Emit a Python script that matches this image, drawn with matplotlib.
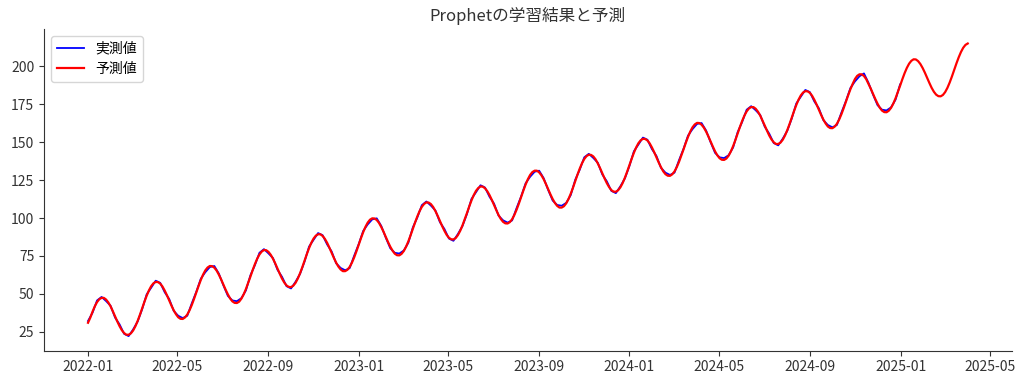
import pandas as pd
import matplotlib
matplotlib.use("Agg")
import matplotlib.pyplot as plt
import matplotlib.dates as mdates

plt.rcParams['font.family'] = ['Noto Sans CJK JP', 'DejaVu Sans']

start_date = "2022-01-01"
# predicted line read every 73 hours (24 points per seasonal cycle)
pred_step = "73h"
# actual values read every 146 hours
actual_step = "146h"

# predicted values (yhat), history + 90 day forecast
pred_vals = [
    31.0, 34.3, 38.3, 41.8, 44.6, 46.5, 47.4, 47.4, 46.3, 44.4, 41.8, 38.6,
    35.2, 31.8, 28.7, 26.1, 24.2, 23.1, 23.1, 24.0, 25.9, 28.7, 32.2, 36.2,
    40.5, 44.8, 48.8, 52.3, 55.1, 57.0, 57.9, 57.8, 56.8, 54.9, 52.2, 49.1,
    45.7, 42.3, 39.2, 36.6, 34.6, 33.6, 33.5, 34.5, 36.4, 39.2, 42.7, 46.7,
    51.0, 55.2, 59.2, 62.7, 65.5, 67.4, 68.4, 68.3, 67.3, 65.4, 62.7, 59.6,
    56.2, 52.8, 49.7, 47.0, 45.1, 44.1, 44.0, 44.9, 46.9, 49.7, 53.2, 57.2,
    61.4, 65.7, 69.7, 73.2, 76.0, 77.9, 78.9, 78.8, 77.7, 75.8, 73.2, 70.1,
    66.7, 63.3, 60.1, 57.5, 55.6, 54.6, 54.5, 55.4, 57.3, 60.1, 63.6, 67.6,
    71.9, 76.2, 80.2, 83.7, 86.5, 88.4, 89.3, 89.3, 88.2, 86.3, 83.7, 80.5,
    77.1, 73.7, 70.6, 68.0, 66.1, 65.0, 65.0, 65.9, 67.8, 70.6, 74.1, 78.1,
    82.4, 86.7, 90.7, 94.2, 97.0, 98.9, 99.8, 99.7, 98.7, 96.8, 94.1, 91.0,
    87.6, 84.2, 81.1, 78.5, 76.5, 75.5, 75.4, 76.4, 78.3, 81.1, 84.6, 88.6,
    92.9, 97.1, 101.1, 104.6, 107.4, 109.3, 110.3, 110.2, 109.2, 107.3, 104.6, 101.5,
    98.1, 94.7, 91.6, 88.9, 87.0, 86.0, 85.9, 86.8, 88.8, 91.6, 95.1, 99.1,
    103.3, 107.6, 111.6, 115.1, 117.9, 119.8, 120.8, 120.7, 119.6, 117.7, 115.1, 112.0,
    108.6, 105.2, 102.0, 99.4, 97.5, 96.5, 96.4, 97.3, 99.2, 102.0, 105.5, 109.5,
    113.8, 118.1, 122.1, 125.6, 128.4, 130.3, 131.2, 131.2, 130.1, 128.2, 125.6, 122.4,
    119.0, 115.6, 112.5, 109.9, 108.0, 106.9, 106.9, 107.8, 109.7, 112.5, 116.0, 120.0,
    124.3, 128.6, 132.6, 136.1, 138.9, 140.8, 141.7, 141.6, 140.6, 138.7, 136.0, 132.9,
    129.5, 126.1, 123.0, 120.4, 118.4, 117.4, 117.3, 118.3, 120.2, 123.0, 126.5, 130.5,
    134.8, 139.0, 143.0, 146.5, 149.3, 151.2, 152.2, 152.1, 151.1, 149.2, 146.5, 143.4,
    140.0, 136.6, 133.5, 130.8, 128.9, 127.9, 127.8, 128.8, 130.7, 133.5, 137.0, 141.0,
    145.2, 149.5, 153.5, 157.0, 159.8, 161.7, 162.7, 162.6, 161.5, 159.6, 157.0, 153.9,
    150.5, 147.1, 143.9, 141.3, 139.4, 138.4, 138.3, 139.2, 141.1, 143.9, 147.4, 151.4,
    155.7, 160.0, 164.0, 167.5, 170.3, 172.2, 173.1, 173.1, 172.0, 170.1, 167.5, 164.3,
    161.0, 157.6, 154.4, 151.8, 149.9, 148.8, 148.8, 149.7, 151.6, 154.4, 157.9, 161.9,
    166.2, 170.5, 174.5, 178.0, 180.8, 182.7, 183.6, 183.5, 182.5, 180.6, 177.9, 174.8,
    171.4, 168.0, 164.9, 162.3, 160.3, 159.3, 159.2, 160.2, 162.1, 164.9, 168.4, 172.4,
    176.7, 180.9, 184.9, 188.4, 191.6, 193.7, 194.7, 194.7, 193.6, 191.5, 188.4, 185.3,
    181.9, 178.5, 175.4, 172.7, 170.8, 169.8, 169.7, 170.7, 172.6, 175.4, 178.9, 182.9,
    187.1, 191.4, 195.4, 198.9, 201.7, 203.6, 204.6, 204.5, 203.4, 201.5, 198.9, 195.8,
    192.4, 189.0, 185.8, 183.2, 181.3, 180.3, 180.2, 181.1, 183.0, 185.8, 189.3, 193.3,
    197.6, 201.9, 205.9, 209.4, 212.2, 214.1, 215.0,
]

# actual observations, 2022-01-01 .. 2024-12-31
actual_vals = [
    32.2, 37.6, 45.7, 48.0, 45.3, 42.2, 34.4, 29.9, 23.7, 22.2, 26.6, 31.8,
    39.9, 49.7, 54.1, 58.7, 57.3, 51.1, 46.6, 38.8, 35.6, 34.1, 35.6, 43.8,
    51.4, 60.0, 64.3, 67.7, 68.4, 63.4, 55.7, 48.7, 45.7, 45.2, 47.2, 52.3,
    62.3, 69.0, 77.1, 79.5, 76.7, 73.6, 65.9, 61.3, 55.1, 53.6, 58.0, 63.2,
    71.3, 81.2, 85.6, 90.1, 88.7, 82.6, 78.0, 70.2, 67.1, 65.6, 67.0, 75.2,
    82.8, 91.5, 95.8, 99.1, 99.8, 94.8, 87.1, 80.1, 77.1, 76.6, 78.6, 83.7,
    93.8, 100.4, 108.5, 110.9, 108.2, 105.0, 97.3, 92.8, 86.5, 85.0, 89.5, 94.7,
    102.7, 112.6, 117.0, 121.6, 120.1, 114.0, 109.5, 101.6, 98.5, 97.0, 98.4, 106.6,
    114.2, 122.9, 127.2, 130.5, 131.2, 126.3, 118.5, 111.5, 108.6, 108.1, 110.0, 115.1,
    125.2, 131.9, 140.0, 142.3, 139.6, 136.4, 128.7, 124.2, 117.9, 116.4, 120.9, 126.1,
    134.2, 144.0, 148.4, 153.0, 151.6, 145.4, 140.9, 133.1, 129.9, 128.4, 129.9, 138.1,
    145.6, 154.3, 158.6, 162.0, 162.6, 157.7, 150.0, 142.9, 140.0, 139.5, 141.4, 146.5,
    156.6, 163.3, 171.4, 173.7, 171.0, 167.9, 160.2, 155.6, 149.4, 147.9, 152.3, 157.5,
    165.6, 175.5, 179.9, 184.4, 183.0, 176.8, 172.3, 164.5, 161.3, 159.8, 161.3, 169.5,
    177.1, 185.7, 190.0, 193.4, 195.3, 189.1, 181.4, 174.4, 171.4, 170.9, 172.9, 178.0,
    188.0,
]

pred_dates = pd.date_range(start_date, periods=len(pred_vals), freq=pred_step)
actual_dates = pd.date_range(start_date, periods=len(actual_vals), freq=actual_step)

fig = plt.figure(figsize=(10.24, 3.8), dpi=100)
ax = fig.add_axes([0.043, 0.077, 0.945, 0.847])

ax.plot(actual_dates, actual_vals, color='blue', lw=1.3, label='実測値')
ax.plot(pred_dates, pred_vals, color='red', lw=1.6, label='予測値')

ax.set_title('Prophetの学習結果と予測', fontsize=12, color='#333333')
ax.legend(loc='upper left', fontsize=10)

ax.xaxis.set_major_locator(mdates.MonthLocator(bymonth=[1, 5, 9]))
ax.xaxis.set_major_formatter(mdates.DateFormatter('%Y-%m'))

for s in ['top', 'right']:
    ax.spines[s].set_visible(False)
for s in ['left', 'bottom']:
    ax.spines[s].set_color('#333333')
ax.tick_params(colors='#333333', labelsize=10)

fig.savefig('out.png', dpi=100)
